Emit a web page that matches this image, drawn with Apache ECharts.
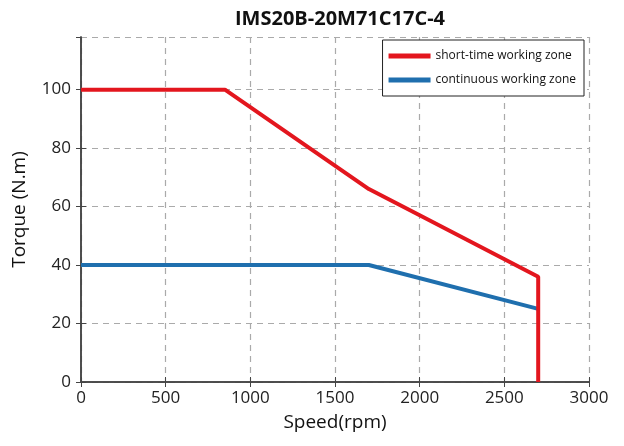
<!DOCTYPE html>
<html><head><meta charset="utf-8">
<script src="https://cdn.jsdelivr.net/npm/echarts@6/dist/echarts.min.js"></script>
<style>html,body{margin:0;padding:0;background:#fff}#c{width:624px;height:446px}</style>
</head><body><div id="c"></div>
<script>
const titleText = "IMS20B-20M71C17C-4";
const xName = "Speed(rpm)";
const yName = "Torque (N.m)";
const shortTimeName = "short-time working zone";
const contName = "continuous working zone";
const shortTimeSpeed = [0, 850, 1700, 2000, 2700, 2700];
const shortTimeTorque = [100, 100, 66, 57, 36, 0];
const contSpeed = [0, 1700, 2700];
const contTorque = [40, 40, 25];
const xTicks = [0, 500, 1000, 1500, 2000, 2500, 3000];
const yTicks = [0, 20, 40, 60, 80, 100];

const zip = (a, b) => a.map((v, i) => [v, b[i]]);
const font = "'Open Sans', 'Noto Sans', sans-serif";
const chart = echarts.init(document.getElementById('c'), null, {renderer: 'canvas'});
chart.setOption({
  animation: false,
  title: {text: titleText, left: 335, top: 4, textAlign: 'center',
    textStyle: {fontFamily: font, fontSize: 20, fontWeight: 'bold', color: '#111'}},
  grid: {left: 81, right: 35, top: 37, bottom: 64},
  legend: {
    right: 40, top: 40, orient: 'vertical', itemWidth: 42, itemHeight: 5, itemGap: 12,
    padding: [10, 8, 10, 6], borderColor: '#222', borderWidth: 1, backgroundColor: '#fff',
    textStyle: {fontFamily: font, fontSize: 12, color: '#111'},
    data: [{name: shortTimeName, icon: 'rect'}, {name: contName, icon: 'rect'}]
  },
  xAxis: [{
    type: 'value', min: 0, max: 3000, interval: 500,
    name: xName, nameLocation: 'middle', nameGap: 31,
    nameTextStyle: {fontFamily: font, fontSize: 19, color: '#111'},
    axisLine: {show: true, lineStyle: {color: '#444', width: 1.5}},
    axisTick: {show: true, inside: true, length: 5, lineStyle: {color: '#444'}},
    axisLabel: {fontFamily: font, fontSize: 17, color: '#222', margin: 8,
      formatter: v => xTicks.includes(v) ? String(v) : ''},
    splitLine: {show: true, lineStyle: {color: '#aaa', type: [6, 5], width: 1.2}}
  }, {
    type: 'value', min: 0, max: 3000, interval: 500, position: 'top',
    axisLine: {show: true, lineStyle: {color: '#444', width: 1.5}},
    axisTick: {show: true, inside: true, length: 5, lineStyle: {color: '#444'}},
    axisLabel: {show: false}, splitLine: {show: false}
  }],
  yAxis: [{
    type: 'value', min: 0, max: 118, interval: 20,
    name: yName, nameLocation: 'middle', nameGap: 52,
    nameTextStyle: {fontFamily: font, fontSize: 19, color: '#111'},
    axisLine: {show: true, lineStyle: {color: '#444', width: 1.5}},
    axisTick: {show: true, inside: true, length: 5, lineStyle: {color: '#444'}},
    axisLabel: {fontFamily: font, fontSize: 17, color: '#222', margin: 10, showMaxLabel: false,
      formatter: v => yTicks.includes(v) ? String(v) : ''},
    splitLine: {show: true, lineStyle: {color: '#aaa', type: [6, 5], width: 1.2}}
  }, {
    type: 'value', min: 0, max: 118, interval: 20, position: 'right',
    axisLine: {show: true, lineStyle: {color: '#444', width: 1.5}},
    axisTick: {show: true, inside: true, length: 5, lineStyle: {color: '#444'}},
    axisLabel: {show: false}, splitLine: {show: false}
  }],
  series: [
    {name: shortTimeName, type: 'line', data: zip(shortTimeSpeed, shortTimeTorque),
      showSymbol: false, symbol: 'none', color: '#e3161e', lineStyle: {width: 4, color: '#e3161e'}, z: 4},
    {name: contName, type: 'line', data: zip(contSpeed, contTorque),
      showSymbol: false, symbol: 'none', color: '#1f6fae', lineStyle: {width: 4, color: '#1f6fae'}, z: 3}
  ]
});
</script></body></html>
